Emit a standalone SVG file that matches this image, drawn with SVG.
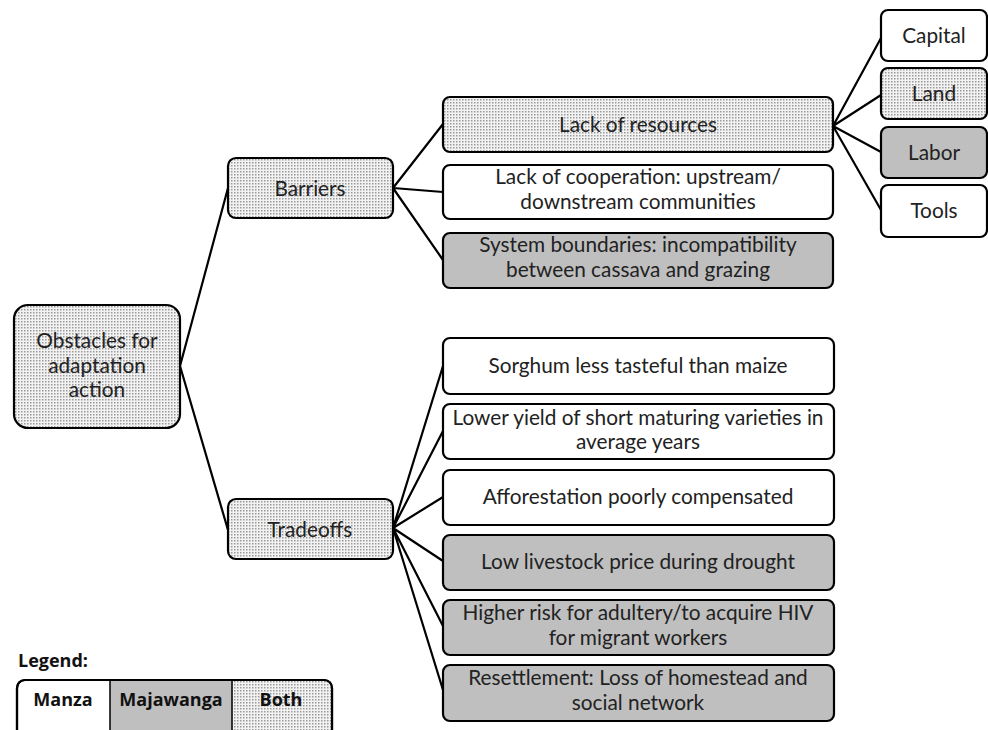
<svg xmlns="http://www.w3.org/2000/svg" width="988" height="730" viewBox="0 0 988 730">
<defs>
<pattern id="dots" width="3" height="3" patternUnits="userSpaceOnUse">
<rect width="3" height="3" fill="#f2f2f2"/>
<rect x="0" y="0" width="1.5" height="1.5" fill="#9a9a9a"/>
</pattern>
</defs>
<style>
.box{stroke:#000;stroke-width:2.2}
.w{fill:#fff}
.g{fill:#bfbfbf}
.d{fill:url(#dots)}
.t{font-family:Lato,"Liberation Sans",sans-serif;font-size:20.8px;fill:#222;text-anchor:middle}
.lg{font-family:"Open Sans","Liberation Sans",sans-serif;font-size:18px;font-weight:bold;fill:#111}
.c{stroke:#000;stroke-width:2.2;fill:none}
</style>
<rect width="988" height="730" fill="#fff"/>
<g id="connectors">
<path class="c" d="M180,366L228,188M180,366L228,530"/>
<path class="c" d="M393,188L443,124M393,188L443,192M393,188L443,260"/>
<path class="c" d="M833,126L881,38M833,126L881,95M833,126L881,152M833,126L881,210"/>
<path class="c" d="M393,528L443,366M393,528L443,431M393,528L443,497M393,528L443,561M393,528L443,626M393,528L443,690"/>
</g>
<g id="root"><rect class="box d" x="14" y="305" width="166" height="123" rx="14"/>
<text class="t" x="97" y="348">Obstacles for</text><text class="t" x="97" y="373">adaptation</text><text class="t" x="97" y="397">action</text></g>
<g id="barriers"><rect class="box d" x="228" y="158" width="165" height="60" rx="8"/><text class="t" x="310" y="196">Barriers</text></g>
<g id="tradeoffs"><rect class="box d" x="228" y="499" width="165" height="60" rx="8"/><text class="t" x="310" y="537">Tradeoffs</text></g>
<g id="resources"><rect class="box d" x="443" y="97" width="390" height="55" rx="7"/><text class="t" x="638" y="132">Lack of resources</text></g>
<g id="cooperation"><rect class="box w" x="443" y="165" width="390" height="54" rx="7"/><text class="t" x="638" y="184">Lack of cooperation: upstream/</text><text class="t" x="638" y="209">downstream communities</text></g>
<g id="boundaries"><rect class="box g" x="443" y="233" width="390" height="55" rx="7"/><text class="t" x="638" y="252">System boundaries: incompatibility</text><text class="t" x="638" y="277">between cassava and grazing</text></g>
<g id="capital"><rect class="box w" x="881" y="10" width="106" height="51" rx="7"/><text class="t" x="934" y="43">Capital</text></g>
<g id="land"><rect class="box d" x="881" y="68" width="106" height="51" rx="7"/><text class="t" x="934" y="101">Land</text></g>
<g id="labor"><rect class="box g" x="881" y="127" width="106" height="51" rx="7"/><text class="t" x="934" y="160">Labor</text></g>
<g id="tools"><rect class="box w" x="881" y="185" width="106" height="52" rx="7"/><text class="t" x="934" y="218">Tools</text></g>
<g id="sorghum"><rect class="box w" x="443" y="338" width="391" height="56" rx="7"/><text class="t" x="638" y="373">Sorghum less tasteful than maize</text></g>
<g id="yield"><rect class="box w" x="443" y="404" width="391" height="55" rx="7"/><text class="t" x="638" y="425">Lower yield of short maturing varieties in</text><text class="t" x="638" y="449">average years</text></g>
<g id="afforestation"><rect class="box w" x="443" y="470" width="391" height="55" rx="7"/><text class="t" x="638" y="504">Afforestation poorly compensated</text></g>
<g id="livestock"><rect class="box g" x="443" y="535" width="391" height="55" rx="7"/><text class="t" x="638" y="569">Low livestock price during drought</text></g>
<g id="hiv"><rect class="box g" x="443" y="600" width="391" height="55" rx="7"/><text class="t" x="638" y="620">Higher risk for adultery/to acquire HIV</text><text class="t" x="638" y="645">for migrant workers</text></g>
<g id="resettlement"><rect class="box g" x="443" y="665" width="391" height="56" rx="7"/><text class="t" x="638" y="685">Resettlement: Loss of homestead and</text><text class="t" x="638" y="710">social network</text></g>
<g id="legend">
<text class="lg" x="18" y="667">Legend:</text>
<rect class="box w" x="17" y="680" width="315" height="70" rx="8"/>
<rect class="g" x="110" y="681" width="122" height="50"/>
<rect class="d" x="232" y="681" width="99" height="50"/>
<rect x="17" y="680" width="315" height="70" rx="8" fill="none" stroke="#000" stroke-width="2.2"/>
<path d="M110,680V730M232,680V730" stroke="#000" stroke-width="1.5"/>
<text class="lg" x="63" y="706" text-anchor="middle">Manza</text>
<text class="lg" x="171" y="706" text-anchor="middle">Majawanga</text>
<text class="lg" x="281" y="706" text-anchor="middle">Both</text>
</g>
</svg>
